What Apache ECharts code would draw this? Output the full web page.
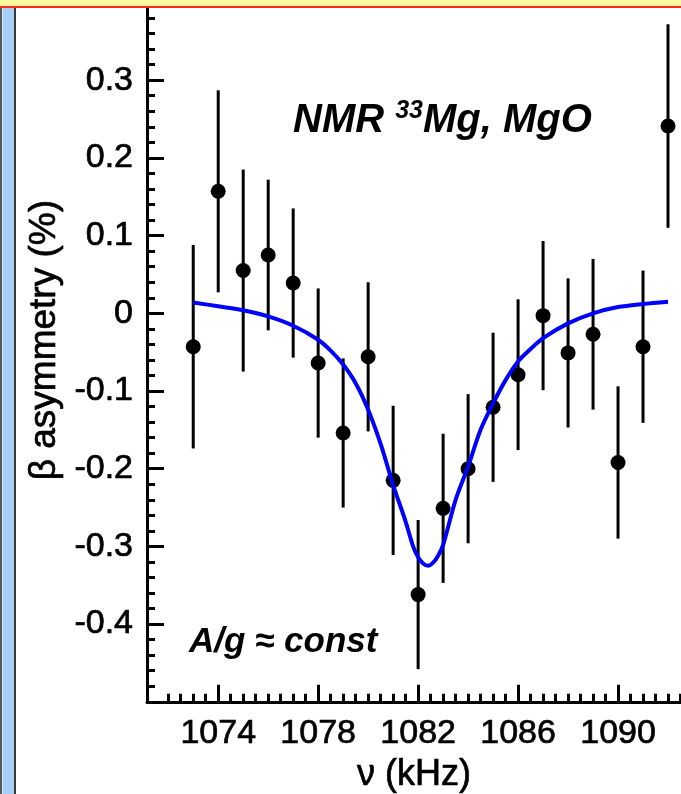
<!DOCTYPE html>
<html><head><meta charset="utf-8">
<script src="https://cdn.jsdelivr.net/npm/echarts@6/dist/echarts.min.js"></script>
<style>html,body{margin:0;padding:0;background:#fff}#c{width:681px;height:794px}</style>
</head><body><div id="c"></div>
<script>
// ---- data ----
const freq = [1073,1074,1075,1076,1077,1078,1079,1080,1081,1082,1083,1084,1085,1086,1087,1088,1089,1090,1091,1092];
const asym = [-0.043,0.157,0.055,0.075,0.039,-0.064,-0.154,-0.056,-0.215,-0.362,-0.251,-0.200,-0.121,-0.079,-0.003,-0.051,-0.027,-0.192,-0.043,0.241];
const err  = [0.131,0.130,0.130,0.097,0.096,0.096,0.096,0.096,0.096,0.096,0.096,0.096,0.096,0.097,0.096,0.096,0.097,0.098,0.098,0.131];
const fitFreq = [1073,1074,1075,1076,1077,1078,1078.5,1079,1079.5,1080,1080.5,1081,1081.5,1081.8,1082,1082.2,1082.4,1082.6,1082.8,1083,1083.5,1084,1084.5,1085,1085.5,1086,1086.5,1087,1088,1089,1090,1091,1092];
const fitAsym = [0.014,0.009,0.004,-0.004,-0.016,-0.034,-0.048,-0.066,-0.090,-0.124,-0.168,-0.221,-0.268,-0.300,-0.314,-0.322,-0.325,-0.321,-0.312,-0.298,-0.240,-0.197,-0.150,-0.116,-0.086,-0.062,-0.046,-0.032,-0.013,0.000,0.008,0.012,0.015];
const xMajor = [1074,1078,1082,1086,1090];
const xMinor = [1072,1072.5,1073,1073.5,1074.5,1075,1075.5,1076,1076.5,1077,1077.5,1078.5,1079,1079.5,1080,1080.5,1081,1081.5,1082.5,1083,1083.5,1084,1084.5,1085,1085.5,1086.5,1087,1087.5,1088,1088.5,1089,1089.5,1090.5,1091,1091.5,1092,1092.5,1093];
const yLabels = [-0.4,-0.3,-0.2,-0.1,0,0.1,0.2,0.3];

const FONT = "'Liberation Sans', Arial, Helvetica, sans-serif";
const chart = echarts.init(document.getElementById('c'));
const tickStyle = {color:'#000', width:3};
const labelCommon = {color:'#000', fontSize:34, fontFamily:FONT, textBorderColor:'#000', textBorderWidth:0.7};

const option = {
  animation:false,
  backgroundColor:'#fff',
  grid:{left:147, top:2.5, width:546, height:699.3, containLabel:false, outerBoundsMode:'none'},
  xAxis:[{
    type:'value', min:1071.15, max:1093, position:'bottom',
    axisLine:{show:true, onZero:false, lineStyle:{color:'#000', width:3}},
    axisTick:{show:true, inside:true, length:17, customValues:xMajor, lineStyle:tickStyle},
    axisLabel:Object.assign({show:true, customValues:xMajor, margin:15, formatter:v=>String(v)}, labelCommon),
    splitLine:{show:false},
    name:'ν (kHz)', nameLocation:'middle', nameGap:55,
    nameTextStyle:{color:'#000', fontSize:36, fontFamily:FONT, padding:[0,12,0,0], textBorderColor:'#000', textBorderWidth:0.7}
  },{
    type:'value', min:1071.15, max:1093, position:'bottom',
    axisLine:{show:false, onZero:false},
    axisTick:{show:true, inside:true, length:8, customValues:xMinor, lineStyle:tickStyle},
    axisLabel:{show:false}, splitLine:{show:false}
  }],
  yAxis:{
    type:'value', min:-0.5, max:0.4, interval:0.1,
    axisLine:{show:true, onZero:false, lineStyle:{color:'#000', width:3}},
    axisTick:{show:true, inside:true, length:17, lineStyle:tickStyle},
    minorTick:{show:true, splitNumber:5, length:8, lineStyle:tickStyle},
    axisLabel:Object.assign({margin:14,
      formatter:v=>{const r=Math.round(v*10)/10; return yLabels.indexOf(r)>=0 ? String(r) : '';}}, labelCommon),
    splitLine:{show:false}, minorSplitLine:{show:false},
    name:'β asymmetry (%)', nameLocation:'middle', nameGap:80,
    nameTextStyle:{color:'#000', fontSize:37, fontFamily:FONT, padding:[0,0,0,24], textBorderColor:'#000', textBorderWidth:0.7}
  },
  series:[{
    type:'custom', xAxisIndex:0, z:2,
    data:freq.map((f,i)=>[f, asym[i]-err[i], asym[i]+err[i]]),
    encode:{x:0, y:[1,2]},
    renderItem:(params, api)=>{
      const a = api.coord([api.value(0), api.value(1)]);
      const b = api.coord([api.value(0), api.value(2)]);
      return {type:'line', shape:{x1:a[0], y1:a[1], x2:b[0], y2:b[1]}, style:{stroke:'#000', lineWidth:3}};
    }
  },{
    type:'scatter', xAxisIndex:0, z:3, symbol:'circle', symbolSize:15,
    itemStyle:{color:'#000', opacity:1},
    data:freq.map((f,i)=>[f, asym[i]])
  },{
    type:'line', xAxisIndex:0, z:4, showSymbol:false, smooth:0.3,
    lineStyle:{color:'#0000ff', width:4},
    data:fitFreq.map((f,i)=>[f, fitAsym[i]])
  }],
  graphic:[
    {type:'rect', z:100, shape:{x:0, y:0, width:681, height:6}, style:{fill:'#fbf79c'}},
    {type:'rect', z:100, shape:{x:0, y:6, width:681, height:2}, style:{fill:'#ff2a1a'}},
    {type:'rect', z:100, shape:{x:0, y:8, width:2, height:786}, style:{fill:'#5a5a5a'}},
    {type:'rect', z:100, shape:{x:2, y:8, width:1, height:786}, style:{fill:'#d8e8f8'}},
    {type:'rect', z:100, shape:{x:3, y:8, width:11, height:786}, style:{fill:'#a7cff7'}},
    {type:'rect', z:100, shape:{x:14, y:8, width:2, height:786}, style:{fill:'#3a3a3a'}},
    {type:'text', z:100, left:293, top:99,
      style:{text:'{a|NMR }{s|33}{a|Mg, MgO}', fill:'#000',
        rich:{a:{fontSize:40, lineHeight:44, fontStyle:'italic', fontWeight:'bold', fontFamily:FONT},
              s:{fontSize:25, lineHeight:25, fontStyle:'italic', fontWeight:'bold', fontFamily:FONT, verticalAlign:'top'}}}},
    {type:'text', z:100, left:189, top:625,
      style:{text:'A/g ≈ const', fill:'#000', font:"italic bold 35px "+FONT}}
  ]
};
chart.setOption(option);
</script>
</body></html>
